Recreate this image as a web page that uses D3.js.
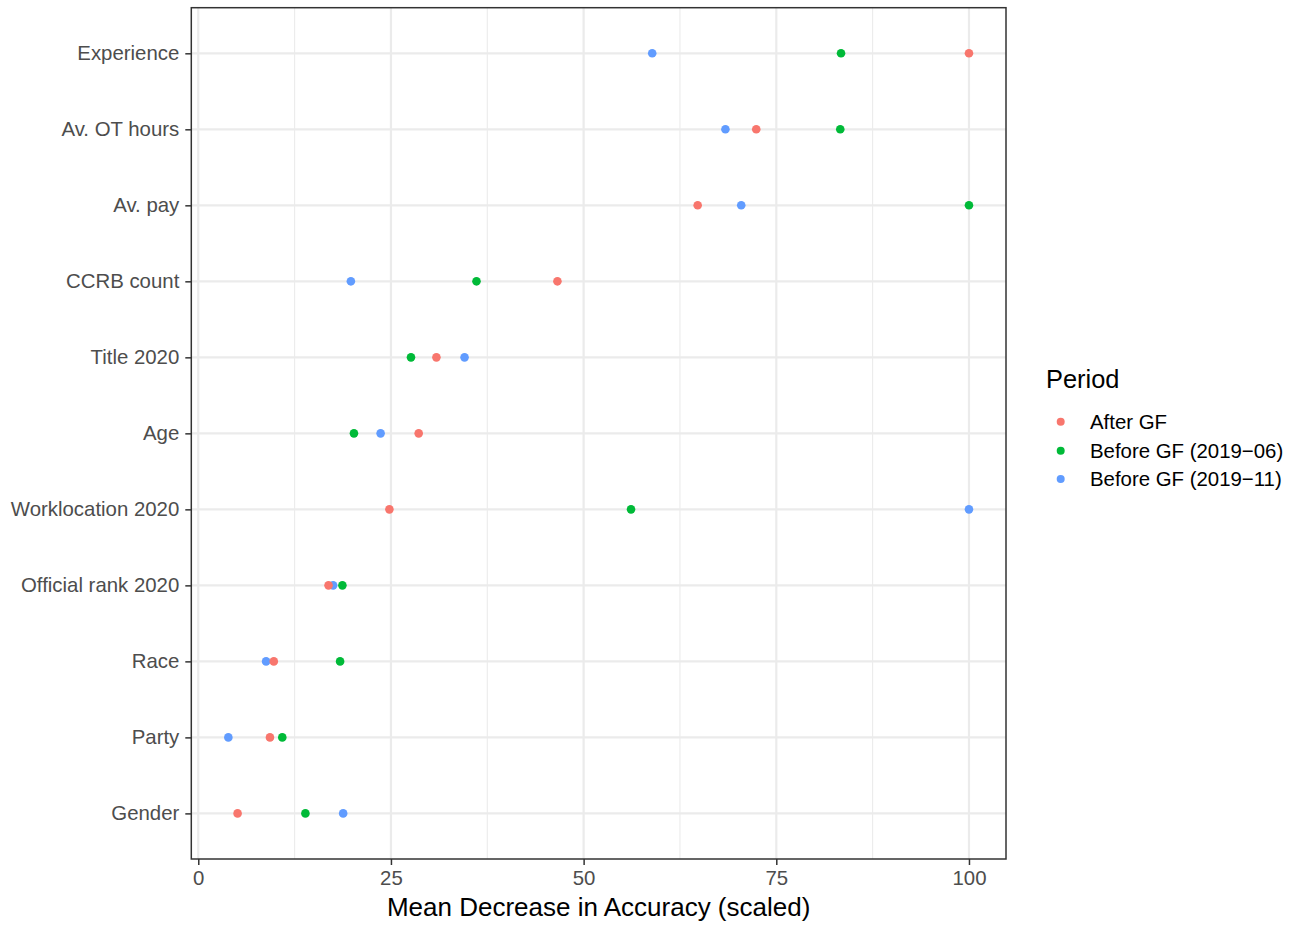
<!DOCTYPE html>
<html>
<head>
<meta charset="utf-8">
<script src="https://cdn.jsdelivr.net/npm/d3@7"></script>
<style>
  body { margin: 0; background: #fff; }
  text { font-family: "Liberation Sans", Arial, sans-serif; }
</style>
</head>
<body>
<div id="chart"></div>
<script>
// variables, top to bottom
var features = ["Experience", "Av. OT hours", "Av. pay", "CCRB count", "Title 2020", "Age",
	"Worklocation 2020", "Official rank 2020", "Race", "Party", "Gender"];
var periods = ["After GF", "Before GF (2019\u221206)", "Before GF (2019\u221211)"];
var periodColors = ["#F8766D", "#00BA38", "#619CFF"];
// mean decrease in accuracy (scaled), one value per feature
var afterGF =  [100, 72.4, 64.8, 46.6, 30.9, 28.6, 24.8, 16.9, 9.8, 9.3, 5.1];
var before06 = [83.4, 83.3, 100, 36.1, 27.6, 20.2, 56.15, 18.7, 18.4, 10.9, 13.9];
var before11 = [58.9, 68.4, 70.45, 19.8, 34.55, 23.66, 100, 17.5, 8.8, 3.9, 18.8];
var xTicks = [0, 25, 50, 75, 100];
var xMinor = [12.5, 37.5, 62.5, 87.5];

var W = 1305, H = 926;
var panel = {left: 191.3, right: 1006, top: 7.7, bottom: 859};

var seriesList = [afterGF, before06, before11];
var points = [];
// draw order: 2019-11 first, after GF last (on top)
[2, 1, 0].forEach(function (s) {
	seriesList[s].forEach(function (v, i) {
		points.push({feature: features[i], value: v, period: s});
	});
});

var allVals = [].concat(afterGF, before06, before11);
var ext = d3.extent(allVals);
var pad = (ext[1] - ext[0]) * 0.05;

var x = d3.scaleLinear()
	.domain([ext[0] - pad, ext[1] + pad])
	.range([panel.left, panel.right]);
var y = d3.scalePoint()
	.domain(features)
	.range([panel.top, panel.bottom])
	.padding(0.6);

var svg = d3.select("#chart").append("svg")
	.attr("width", W)
	.attr("height", H);

// grid
var grid = svg.append("g");
grid.selectAll("line.minor").data(xMinor).enter().append("line")
	.attr("x1", function (d) { return x(d); }).attr("x2", function (d) { return x(d); })
	.attr("y1", panel.top).attr("y2", panel.bottom)
	.attr("stroke", "#EBEBEB").attr("stroke-width", 1.1);
grid.selectAll("line.major").data(xTicks).enter().append("line")
	.attr("x1", function (d) { return x(d); }).attr("x2", function (d) { return x(d); })
	.attr("y1", panel.top).attr("y2", panel.bottom)
	.attr("stroke", "#EBEBEB").attr("stroke-width", 2.2);
grid.selectAll("line.hmajor").data(features).enter().append("line")
	.attr("x1", panel.left).attr("x2", panel.right)
	.attr("y1", function (d) { return y(d); }).attr("y2", function (d) { return y(d); })
	.attr("stroke", "#EBEBEB").attr("stroke-width", 2.2);

// points
svg.append("g").selectAll("circle").data(points).enter().append("circle")
	.attr("cx", function (d) { return x(d.value); })
	.attr("cy", function (d) { return y(d.feature); })
	.attr("r", 4.3)
	.attr("fill", function (d) { return periodColors[d.period]; });

// panel border
svg.append("rect")
	.attr("x", panel.left).attr("y", panel.top)
	.attr("width", panel.right - panel.left).attr("height", panel.bottom - panel.top)
	.attr("fill", "none").attr("stroke", "#333333").attr("stroke-width", 1.5);

// x axis
var xAxis = svg.append("g")
	.attr("transform", "translate(0," + panel.bottom + ")")
	.call(d3.axisBottom(x).tickValues(xTicks).tickSize(6).tickPadding(6).tickFormat(d3.format("d")));
xAxis.select(".domain").remove();
xAxis.selectAll(".tick line").attr("stroke", "#333333").attr("stroke-width", 1.5);
xAxis.selectAll(".tick text").attr("fill", "#4D4D4D").style("font-size", "20.4px")
	.attr("font-family", "Liberation Sans, Arial, sans-serif");

// y axis
var yAxis = svg.append("g")
	.attr("transform", "translate(" + panel.left + ",0)")
	.call(d3.axisLeft(y).tickSize(6).tickPadding(6));
yAxis.select(".domain").remove();
yAxis.selectAll(".tick line").attr("stroke", "#333333").attr("stroke-width", 1.5);
yAxis.selectAll(".tick text").attr("fill", "#4D4D4D").style("font-size", "20.4px")
	.attr("font-family", "Liberation Sans, Arial, sans-serif");

// axis title
svg.append("text")
	.attr("x", (panel.left + panel.right) / 2)
	.attr("y", 916)
	.attr("text-anchor", "middle")
	.style("font-size", "26px")
	.attr("fill", "#000")
	.text("Mean Decrease in Accuracy (scaled)");

// legend
var legend = svg.append("g");
legend.append("text")
	.attr("x", 1046).attr("y", 388)
	.style("font-size", "25.4px")
	.attr("fill", "#000")
	.text("Period");
var legendY = [421.7, 450.7, 479];
periods.forEach(function (p, i) {
	legend.append("circle")
		.attr("cx", 1060.7).attr("cy", legendY[i]).attr("r", 4)
		.attr("fill", periodColors[i]);
	legend.append("text")
		.attr("x", 1090).attr("y", legendY[i]).attr("dy", "0.35em")
		.style("font-size", "20.4px")
		.attr("fill", "#000")
		.text(p);
});
</script>
</body>
</html>
